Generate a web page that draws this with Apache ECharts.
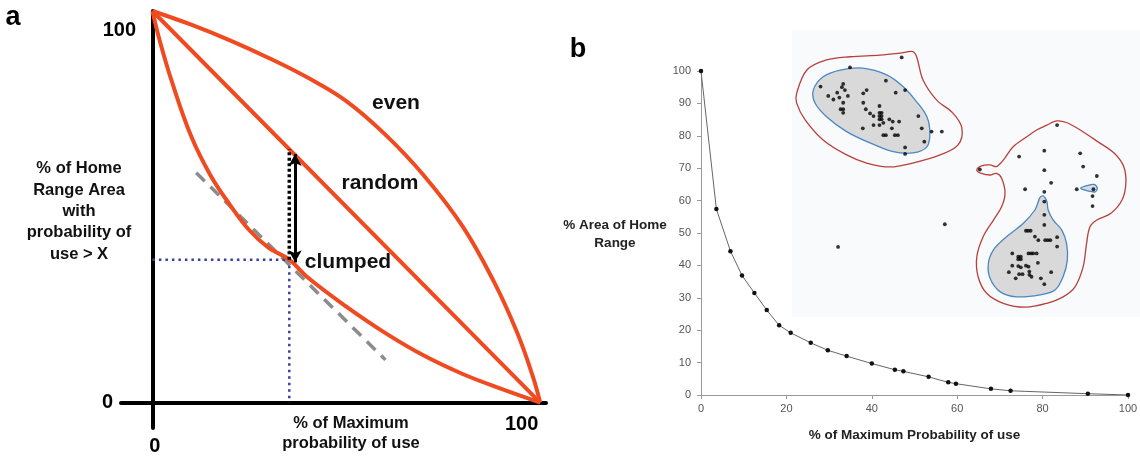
<!DOCTYPE html>
<html><head><meta charset="utf-8">
<script src="https://cdn.jsdelivr.net/npm/echarts@6/dist/echarts.min.js"></script>
<style>html,body{margin:0;padding:0;background:#fff}#c{width:1140px;height:456px}</style>
</head><body><div id="c"></div>
<script>
// ---------- Panel a (schematic) ----------
const aTickValues = [0, 100];
const evenCurve = [[0,100],[10,96.5],[20,92.5],[30,88],[40,83],[50,77],[60,68.5],[70,58],[80,45],[88,31],[94,18],[98,7],[100,0]];
const randomLine = [[0,100],[100,0]];
const clumpedCurve = [[0,100],[2,92],[5,82],[10,68],[15,58],[20,50.5],[25,44],[30,39.5],[35.3,36.5],[40,32],[50,24.5],[60,17.8],[70,12],[80,7.3],[90,3.5],[100,0]];
const tangentLine = [[11.3,58.7],[60.1,10.9]];
const focusPoint = [35.3, 36.5];
const gapArrow = [[36.8,35.8],[36.8,63.5]];
const curveNames = ['even', 'random', 'clumped'];

// ---------- Panel b (empirical) ----------
const bXTicks = [0, 20, 40, 60, 80, 100];
const bYTicks = [0, 10, 20, 30, 40, 50, 60, 70, 80, 90, 100];
const probUse = [0, 3.6, 6.9, 9.6, 12.5, 15.4, 18.3, 21.0, 25.7, 29.7, 34.1, 40.0, 45.4, 47.4, 53.3, 57.9, 59.7, 67.9, 72.5, 90.6, 100];
const areaPct = [100, 57.4, 44.4, 36.9, 31.5, 26.2, 21.5, 19.2, 16.1, 13.8, 12.0, 9.7, 7.8, 7.3, 5.6, 3.9, 3.5, 1.9, 1.3, 0.4, 0];

const fixes = [
 [47.0,104.2],[34.9,101.1],[28.0,95.2],[33.3,96.0],[33.0,95.0],[33.7,94.1],[31.9,93.3],[29.8,92.3],[31.0,91.2],[32.4,91.8],
 [34.4,92.3],[33.3,90.2],[32.7,88.2],[33.3,88.2],[33.3,87.1],[38.0,93.1],[38.8,94.1],[38.0,90.2],[43.3,97.0],[45.6,93.3],
 [47.8,94.1],[38.6,88.2],[41.8,89.2],[39.6,86.9],[40.4,86.1],[41.8,87.1],[42.3,87.1],[41.8,86.1],[42.3,86.1],[41.8,85.1],
 [42.3,85.1],[42.7,84.0],[44.1,85.1],[44.9,84.4],[46.4,84.4],[37.9,82.3],[40.4,83.3],[41.8,83.3],[44.7,82.3],[42.7,80.2],
 [43.3,80.2],[45.4,80.2],[46.1,80.2],[50.9,86.1],[51.7,82.3],[54.0,81.3],[56.4,81.3],[52.3,78.2],[47.8,76.4],[47.8,74.4],
 [83.4,83.3],[74.5,73.6],[80.4,75.4],[88.8,74.6],[89.5,70.5],[80.4,69.4],[92.7,67.6],[82.0,65.5],[75.9,63.5],[80.4,62.7],
 [88.0,63.5],[91.9,63.5],[91.7,61.4],[91.7,58.3],[80.4,59.7],[80.4,55.6],[80.4,52.5],[76.1,50.7],[76.6,50.7],[77.2,50.7],
 [78.2,48.9],[79.0,47.8],[80.6,47.8],[81.2,47.8],[81.8,47.8],[83.4,48.7],[83.4,45.8],[76.7,43.7],[77.3,43.7],[77.8,43.7],
 [78.6,43.7],[72.9,43.7],[74.3,42.7],[74.9,42.7],[74.3,41.9],[74.9,41.9],[78.9,40.8],[72.9,39.9],[74.3,39.8],[74.9,39.4],
 [76.1,39.9],[76.7,39.6],[72.1,37.9],[74.5,37.3],[75.3,37.3],[76.9,38.1],[76.9,37.1],[82.0,37.9],[73.7,36.0],[77.4,36.5],
 [79.6,36.0],[80.4,34.2],[65.3,69.6],[32.1,45.7],[57.1,52.7]
];
const outerContourA = [[22.4,93.1],[24.8,100.3],[29.4,103.4],[34.9,104.4],[41.9,104.9],[46.6,105.5],[49.6,106],[50.5,104.4],[52.0,97.2],[55.2,91.0],[59.0,87.0],[61.1,82.4],[60.2,77.2],[56.0,74.1],[49.6,71.6],[44.3,70.4],[38.8,71.6],[34.1,74.1],[28.6,78.7],[24.4,84.9],[22.4,90.1]];
const coreContourA = [[26.3,94.1],[28.6,98.2],[32.6,100.3],[37.9,100.9],[43.5,98.8],[47.3,95.2],[50.5,90.5],[52.9,85.9],[53.6,80.9],[52.9,76.6],[49.6,74.7],[45.0,75.1],[39.6,77.8],[34.1,81.3],[29.4,85.9],[26.7,90.1]];
const outerContourB = [[81.0,83.3],[83.3,84.6],[85.6,84.1],[88.8,81.8],[92.9,78.2],[96.8,74.6],[99.0,70.5],[99.5,65.3],[98.6,60.2],[96.0,56.1],[92.7,54.0],[91.1,51.9],[90.3,46.8],[89.5,39.6],[87.6,33.4],[84.8,30.3],[81.0,28.3],[76.0,27.1],[70.8,28.3],[66.9,31.4],[64.9,36.5],[64.6,42.7],[66.1,48.9],[68.5,54.0],[70.4,58.1],[71.2,62.3],[70.4,66.9],[69.2,68.4],[67.7,67.9],[65.7,68.4],[64.6,69.4],[65.7,70.7],[67.7,71.0],[69.2,70.5],[70.8,72.5],[73.1,76.6],[76.3,79.7],[78.6,81.8]];
const coreContourB = [[79.4,61.0],[80.2,61.4],[81.0,59.7],[81.3,57.1],[82.5,54.0],[84.5,50.9],[85.6,46.8],[85.8,41.7],[84.8,36.5],[82.9,32.4],[79.4,30.9],[73.9,30.3],[70.0,31.9],[67.7,36.0],[67.3,40.6],[68.5,44.8],[71.6,48.9],[75.5,53.0],[78.2,57.1],[79.0,59.7]];
const coreContourC = [[88.9,63.8],[90.6,64.7],[92.0,65.0],[92.8,63.9],[92.3,62.7],[90.6,63.0]];

const FONT = '"Liberation Sans", Arial, Helvetica, sans-serif';
const RED = '#f04b20';

function contour(points, stroke, fill, z) {
  return {
    type: 'custom', xAxisIndex: 1, yAxisIndex: 1, data: points, encode: {x: 0, y: 1},
    z: z, silent: true, clip: false,
    renderItem: function (params, api) {
      if (params.dataIndex !== 0) return null;
      return {
        type: 'polygon',
        shape: {points: points.map(p => api.coord(p)), smooth: 0.35},
        style: {fill: fill, stroke: stroke, lineWidth: 1.3}
      };
    }
  };
}
function aLine(data, style, extra) {
  return Object.assign({type: 'line', xAxisIndex: 0, yAxisIndex: 0, data: data, symbol: 'none',
    lineStyle: style, silent: true}, extra || {});
}

const chart = echarts.init(document.getElementById('c'), null, {renderer: 'canvas'});
const boldTick = {fontSize: 20, fontWeight: 'bold', color: '#000', fontFamily: FONT};
chart.setOption({
  animation: false,
  textStyle: {fontFamily: FONT},
  grid: [
    {left: 121, top: 11, width: 425, height: 417, outerBoundsMode: 'none'},
    {left: 701, top: 71, width: 427, height: 324, outerBoundsMode: 'none'}
  ],
  xAxis: [
    {gridIndex: 0, type: 'value', min: -8.1, max: 101.5,
     axisLine: {onZero: true, lineStyle: {color: '#000', width: 4}},
     axisTick: {show: false}, splitLine: {show: false},
     axisLabel: {customValues: aTickValues, margin: -14,
       formatter: v => v === 0 ? '{zero|0}' : '{end|100}',
       rich: {zero: Object.assign({padding: [22, 0, 0, 5]}, boldTick), end: Object.assign({padding: [0, 37, 0, 0]}, boldTick)}}},
    {gridIndex: 1, type: 'value', min: 0, max: 100, interval: 20,
     axisLine: {onZero: false, lineStyle: {color: '#9a9a9a', width: 1}},
     axisTick: {show: true, length: 4, lineStyle: {color: '#9a9a9a'}},
     splitLine: {show: false},
     axisLabel: {color: '#555', fontSize: 11, margin: 8, formatter: v => bXTicks.includes(v) ? String(v) : ''},
     name: '% of Maximum Probability of use', nameLocation: 'middle', nameGap: 33,
     nameTextStyle: {fontWeight: 'bold', fontSize: 13.5, color: '#222'}}
  ],
  yAxis: [
    {gridIndex: 0, type: 'value', min: -6.5, max: 100,
     axisLine: {onZero: true, lineStyle: {color: '#000', width: 4}},
     axisTick: {show: false}, splitLine: {show: false},
     axisLabel: {customValues: aTickValues, margin: -15,
       formatter: v => v === 100 ? '{top|100}' : '{zero|0}',
       rich: {top: Object.assign({padding: [38, 0, 0, 0]}, boldTick), zero: Object.assign({padding: [0, 23, 0, 0]}, boldTick)}}},
    {gridIndex: 1, type: 'value', min: 0, max: 100, interval: 10,
     axisLine: {show: true, onZero: false, lineStyle: {color: '#9a9a9a', width: 1}},
     axisTick: {show: true, length: 4, lineStyle: {color: '#9a9a9a'}},
     splitLine: {show: false},
     axisLabel: {color: '#555', fontSize: 11, margin: 10, formatter: v => bYTicks.includes(v) ? String(v) : ''}}
  ],
  graphic: [
    {type: 'rect', z: -10, silent: true, shape: {x: 792, y: 30, width: 348, height: 287}, style: {fill: '#f8fafc'}},
    {type: 'text', x: 13, y: 18, style: {text: 'a', font: 'bold 27px ' + FONT, fill: '#000', textAlign: 'center', textVerticalAlign: 'middle'}},
    {type: 'text', x: 578, y: 50, style: {text: 'b', font: 'bold 27px ' + FONT, fill: '#000', textAlign: 'center', textVerticalAlign: 'middle'}},
    {type: 'text', x: 79, y: 211.5, style: {text: '% of Home\nRange Area\nwith\nprobability of\nuse > X', font: 'bold 16.5px ' + FONT, lineHeight: 21.3, fill: '#111', textAlign: 'center', textVerticalAlign: 'middle'}},
    {type: 'text', x: 351, y: 433, style: {text: '% of Maximum\nprobability of use', font: 'bold 16.5px ' + FONT, lineHeight: 20, fill: '#111', textAlign: 'center', textVerticalAlign: 'middle'}},
    {type: 'text', x: 396, y: 103, style: {text: curveNames[0], font: 'bold 21px ' + FONT, fill: '#111', textAlign: 'center', textVerticalAlign: 'middle'}},
    {type: 'text', x: 380, y: 183, style: {text: curveNames[1], font: 'bold 21px ' + FONT, fill: '#111', textAlign: 'center', textVerticalAlign: 'middle'}},
    {type: 'text', x: 348, y: 262, style: {text: curveNames[2], font: 'bold 21px ' + FONT, fill: '#111', textAlign: 'center', textVerticalAlign: 'middle'}},
    {type: 'text', x: 615, y: 234, style: {text: '% Area of Home\nRange', font: 'bold 13.5px ' + FONT, lineHeight: 18, fill: '#222', textAlign: 'center', textVerticalAlign: 'middle'}}
  ],
  series: [
    aLine(tangentLine, {color: '#8c8c8c', width: 3.5, type: [12, 8]}, {z: 1}),
    aLine(evenCurve, {color: RED, width: 4}, {smooth: 0.4, z: 3}),
    aLine(randomLine, {color: RED, width: 4}, {z: 3}),
    aLine(clumpedCurve, {color: RED, width: 4}, {smooth: 0.4, z: 3}),
    aLine([[0, focusPoint[1]], focusPoint, [focusPoint[0], 0]], {color: '#3d3d9e', width: 2.5, type: [2.5, 4]}, {z: 2}),
    aLine([focusPoint, [focusPoint[0], 100 - focusPoint[0]]], {color: '#000', width: 3.5, type: [3, 2.5]}, {z: 4,
      markLine: {silent: true, symbol: ['arrow', 'arrow'], symbolSize: [10, 12], label: {show: false},
        lineStyle: {color: '#000', width: 3, type: 'solid'},
        data: [[{coord: gapArrow[0]}, {coord: gapArrow[1]}]]}}),
    contour(outerContourA, '#b8403c', 'none', 1),
    contour(outerContourB, '#b8403c', 'none', 1),
    contour(coreContourA, '#4a88c4', '#d9d9d9', 2),
    contour(coreContourB, '#4a88c4', '#d9d9d9', 2),
    contour(coreContourC, '#4a88c4', '#d6dbe0', 2),
    {type: 'scatter', xAxisIndex: 1, yAxisIndex: 1, data: fixes, symbolSize: 3.8, clip: false, silent: true,
     itemStyle: {color: '#000'}, z: 5},
    {type: 'line', xAxisIndex: 1, yAxisIndex: 1, data: probUse.map((x, i) => [x, areaPct[i]]),
     symbol: 'circle', symbolSize: 4.5, showSymbol: true, silent: true,
     itemStyle: {color: '#111'}, lineStyle: {color: '#666', width: 1}, z: 4}
  ]
});
</script></body></html>
